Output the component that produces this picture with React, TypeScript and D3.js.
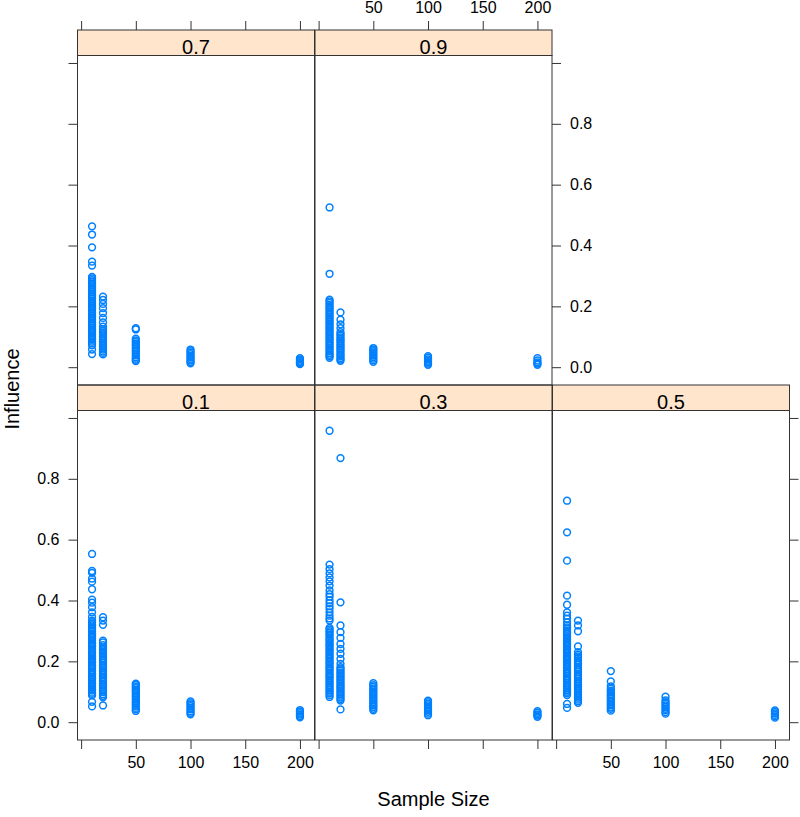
import * as d3 from "d3";
import React, {useEffect, useRef} from "react";

// conditioning levels and x values
const panelLabels = ["0.1", "0.3", "0.5", "0.7", "0.9"];
const sampleSizes = [10, 20, 50, 100, 200];
const xTickValues = [0, 50, 100, 150, 200];
const xTickLabels = ["", "50", "100", "150", "200"];
const yTickValues = [0, 0.2, 0.4, 0.6, 0.8, 1.0];
const yTickLabels = ["0.0", "0.2", "0.4", "0.6", "0.8", ""];

// influence values, one array per panel and sample size
const p01_n10 = [0.553, 0.497, 0.491, 0.472, 0.462, 0.437, 0.403, 0.393, 0.378, 0.361, 0.346, 0.334, 0.329, 0.322, 0.318, 0.311, 0.305, 0.299, 0.292, 0.287, 0.281, 0.276, 0.269, 0.263, 0.258, 0.252, 0.247, 0.240, 0.234, 0.230, 0.223, 0.217, 0.212, 0.206, 0.199, 0.195, 0.188, 0.183, 0.178, 0.171, 0.166, 0.160, 0.155, 0.148, 0.143, 0.138, 0.131, 0.126, 0.121, 0.114, 0.108, 0.104, 0.097, 0.093, 0.088, 0.067, 0.052];
const p01_n20 = [0.345, 0.334, 0.320, 0.268, 0.262, 0.253, 0.246, 0.241, 0.236, 0.229, 0.224, 0.218, 0.211, 0.206, 0.201, 0.195, 0.188, 0.184, 0.178, 0.171, 0.167, 0.160, 0.155, 0.149, 0.144, 0.137, 0.133, 0.126, 0.121, 0.116, 0.109, 0.104, 0.099, 0.092, 0.087, 0.082, 0.055];
const p01_n50 = [0.127, 0.123, 0.117, 0.112, 0.106, 0.101, 0.096, 0.090, 0.085, 0.080, 0.074, 0.068, 0.063, 0.058, 0.053, 0.047, 0.042, 0.037];
const p01_n100 = [0.068, 0.063, 0.058, 0.053, 0.047, 0.042, 0.036, 0.031, 0.026];
const p01_n200 = [0.040, 0.035, 0.030, 0.025, 0.020, 0.016];

const p03_n10 = [0.958, 0.518, 0.503, 0.489, 0.476, 0.463, 0.449, 0.433, 0.421, 0.413, 0.401, 0.391, 0.381, 0.372, 0.361, 0.350, 0.341, 0.334, 0.310, 0.305, 0.299, 0.294, 0.288, 0.283, 0.276, 0.271, 0.266, 0.259, 0.254, 0.249, 0.242, 0.237, 0.232, 0.225, 0.220, 0.214, 0.209, 0.202, 0.197, 0.192, 0.185, 0.180, 0.174, 0.169, 0.162, 0.157, 0.151, 0.146, 0.140, 0.134, 0.129, 0.123, 0.117, 0.112, 0.106, 0.100, 0.095, 0.089, 0.083];
const p03_n20 = [0.868, 0.394, 0.318, 0.296, 0.277, 0.257, 0.241, 0.225, 0.208, 0.192, 0.181, 0.176, 0.170, 0.164, 0.159, 0.153, 0.148, 0.142, 0.137, 0.131, 0.125, 0.120, 0.114, 0.109, 0.103, 0.098, 0.092, 0.087, 0.081, 0.076, 0.071, 0.042];
const p03_n50 = [0.128, 0.122, 0.117, 0.111, 0.106, 0.100, 0.094, 0.089, 0.083, 0.078, 0.072, 0.066, 0.061, 0.055, 0.050, 0.044, 0.039];
const p03_n100 = [0.071, 0.066, 0.060, 0.055, 0.049, 0.044, 0.039, 0.034, 0.028, 0.023];
const p03_n200 = [0.036, 0.031, 0.026, 0.022, 0.018];

const p05_n10 = [0.728, 0.624, 0.531, 0.416, 0.386, 0.361, 0.350, 0.340, 0.328, 0.318, 0.312, 0.307, 0.300, 0.295, 0.290, 0.283, 0.278, 0.272, 0.265, 0.260, 0.255, 0.249, 0.242, 0.237, 0.232, 0.226, 0.219, 0.214, 0.209, 0.203, 0.196, 0.191, 0.186, 0.180, 0.174, 0.168, 0.163, 0.158, 0.151, 0.145, 0.140, 0.135, 0.128, 0.123, 0.118, 0.111, 0.105, 0.100, 0.095, 0.089, 0.060, 0.047];
const p05_n20 = [0.334, 0.318, 0.299, 0.249, 0.230, 0.222, 0.216, 0.211, 0.204, 0.199, 0.194, 0.188, 0.181, 0.176, 0.171, 0.165, 0.158, 0.153, 0.148, 0.142, 0.136, 0.131, 0.125, 0.119, 0.113, 0.108, 0.102, 0.097, 0.091, 0.085, 0.080, 0.074, 0.069, 0.064];
const p05_n50 = [0.168, 0.134, 0.118, 0.110, 0.104, 0.099, 0.093, 0.088, 0.082, 0.077, 0.071, 0.066, 0.060, 0.055, 0.049, 0.044, 0.038];
const p05_n100 = [0.084, 0.072, 0.066, 0.061, 0.055, 0.050, 0.044, 0.039, 0.033, 0.028];
const p05_n200 = [0.039, 0.034, 0.029, 0.024, 0.019, 0.015];

const p07_n10 = [0.463, 0.436, 0.394, 0.347, 0.334, 0.297, 0.292, 0.286, 0.281, 0.275, 0.270, 0.264, 0.258, 0.253, 0.247, 0.241, 0.236, 0.230, 0.225, 0.219, 0.213, 0.208, 0.202, 0.196, 0.191, 0.185, 0.180, 0.174, 0.168, 0.163, 0.157, 0.151, 0.146, 0.140, 0.135, 0.129, 0.123, 0.118, 0.112, 0.106, 0.101, 0.095, 0.090, 0.084, 0.078, 0.072, 0.058, 0.043];
const p07_n20 = [0.232, 0.221, 0.208, 0.194, 0.178, 0.162, 0.147, 0.133, 0.125, 0.119, 0.114, 0.108, 0.102, 0.097, 0.091, 0.086, 0.080, 0.074, 0.069, 0.063, 0.058, 0.052, 0.047, 0.042];
const p07_n50 = [0.128, 0.124, 0.094, 0.088, 0.083, 0.077, 0.072, 0.066, 0.061, 0.055, 0.050, 0.044, 0.039, 0.033, 0.028, 0.024, 0.020];
const p07_n100 = [0.058, 0.053, 0.048, 0.043, 0.037, 0.032, 0.027, 0.022, 0.017, 0.013];
const p07_n200 = [0.030, 0.026, 0.021, 0.017, 0.013, 0.010];

const p09_n10 = [0.525, 0.307, 0.222, 0.216, 0.211, 0.205, 0.199, 0.194, 0.188, 0.182, 0.177, 0.171, 0.165, 0.160, 0.154, 0.148, 0.143, 0.137, 0.131, 0.126, 0.120, 0.114, 0.109, 0.103, 0.097, 0.092, 0.086, 0.080, 0.075, 0.069, 0.063, 0.058, 0.052, 0.046, 0.041, 0.036, 0.031];
const p09_n20 = [0.180, 0.156, 0.141, 0.128, 0.115, 0.109, 0.104, 0.098, 0.092, 0.087, 0.081, 0.075, 0.070, 0.064, 0.058, 0.053, 0.047, 0.041, 0.036, 0.030, 0.025, 0.021];
const p09_n50 = [0.063, 0.058, 0.053, 0.048, 0.043, 0.038, 0.033, 0.028, 0.023, 0.018];
const p09_n100 = [0.036, 0.031, 0.026, 0.021, 0.017, 0.012, 0.008];
const p09_n200 = [0.030, 0.022, 0.016, 0.012, 0.008];

const panelData = [
    [p01_n10, p01_n20, p01_n50, p01_n100, p01_n200],
    [p03_n10, p03_n20, p03_n50, p03_n100, p03_n200],
    [p05_n10, p05_n20, p05_n50, p05_n100, p05_n200],
    [p07_n10, p07_n20, p07_n50, p07_n100, p07_n200],
    [p09_n10, p09_n20, p09_n50, p09_n100, p09_n200],
];

// layout: 3 columns x 2 rows, filled from the bottom left like lattice
const colX = [77.5, 315, 552.5];
const rowStripTop = [30, 385];
const panelW = 237;
const stripH = 25.5;
const panelH = 329.5;
const panelPos = [[0, 1], [1, 1], [2, 1], [0, 0], [1, 0]];
// which axes each panel gets: "l" = ticks + labels, "t" = ticks only
const panelAxes = [
    {left: "l", bottom: "l"},
    {bottom: "t"},
    {bottom: "l", right: "t"},
    {left: "t", top: "t"},
    {top: "l", right: "l"},
];

const font = "'Liberation Sans', Arial, Helvetica, sans-serif";
const lineCol = "#333333";
const pointCol = "#0080ff";

// lattice style padding of 7% on either side
const padExtent = (vals) => {
    const [a, b] = d3.extent(vals);
    const p = (b - a) * 0.07;
    return [a - p, b + p];
};

const App = () => {
    const ref = useRef(null);

    useEffect(() => {
        const svg = d3.select(ref.current);
        svg.selectAll("*").remove();

        const x = d3.scaleLinear().domain(padExtent(sampleSizes)).range([0, panelW]);
        const y = d3.scaleLinear().domain(padExtent(panelData.flat(2))).range([panelH, 0]);

        const styleAxis = (g) => {
            g.select(".domain").remove();
            g.selectAll(".tick line").attr("stroke", lineCol);
            g.selectAll(".tick text")
                .attr("fill", "#000")
                .style("font-size", "16px")
                .style("font-family", font);
        };

        panelData.forEach((groups, pi) => {
            const [c, r] = panelPos[pi];
            const stripTop = rowStripTop[r];
            const top = stripTop + stripH;
            const g = svg.append("g").attr("transform", `translate(${colX[c]},${top})`);

            // strip
            g.append("rect")
                .attr("x", 0).attr("y", -stripH)
                .attr("width", panelW).attr("height", stripH)
                .attr("fill", "#ffe5cc")
                .attr("stroke", lineCol);
            g.append("text")
                .attr("x", panelW / 2).attr("y", -2)
                .attr("text-anchor", "middle")
                .style("font-size", "20px")
                .style("font-family", font)
                .text(panelLabels[pi]);

            // points
            groups.forEach((vals, si) => {
                g.append("g")
                    .selectAll("circle")
                    .data(vals)
                    .join("circle")
                    .attr("cx", x(sampleSizes[si]))
                    .attr("cy", d => y(d))
                    .attr("r", 3.4)
                    .attr("fill", "none")
                    .attr("stroke", pointCol)
                    .attr("stroke-width", 1.5);
            });

            // panel border
            g.append("rect")
                .attr("width", panelW).attr("height", panelH)
                .attr("fill", "none")
                .attr("stroke", lineCol);

            const ax = panelAxes[pi];
            const xFmt = (lab) => (d, i) => lab === "l" ? xTickLabels[i] : "";
            const yFmt = (lab) => (d, i) => lab === "l" ? yTickLabels[i] : "";

            if (ax.bottom) {
                g.append("g")
                    .attr("transform", `translate(0,${panelH})`)
                    .call(d3.axisBottom(x).tickValues(xTickValues).tickSize(9).tickPadding(8).tickFormat(xFmt(ax.bottom)))
                    .call(styleAxis);
            }
            if (ax.top) {
                g.append("g")
                    .attr("transform", `translate(0,${-stripH})`)
                    .call(d3.axisTop(x).tickValues(xTickValues).tickSize(9).tickPadding(8).tickFormat(xFmt(ax.top)))
                    .call(styleAxis);
            }
            if (ax.left) {
                g.append("g")
                    .call(d3.axisLeft(y).tickValues(yTickValues).tickSize(9).tickPadding(9).tickFormat(yFmt(ax.left)))
                    .call(styleAxis);
            }
            if (ax.right) {
                g.append("g")
                    .attr("transform", `translate(${panelW},0)`)
                    .call(d3.axisRight(y).tickValues(yTickValues).tickSize(9).tickPadding(9).tickFormat(yFmt(ax.right)))
                    .call(styleAxis);
            }
        });

        // axis titles
        svg.append("text")
            .attr("x", (colX[0] + colX[2] + panelW) / 2)
            .attr("y", 806)
            .attr("text-anchor", "middle")
            .style("font-size", "20px")
            .style("font-family", font)
            .text("Sample Size");
        svg.append("text")
            .attr("transform", `translate(19,${(rowStripTop[0] + rowStripTop[1] + stripH + panelH) / 2 + 4}) rotate(-90)`)
            .attr("text-anchor", "middle")
            .style("font-size", "20px")
            .style("font-family", font)
            .text("Influence");
    }, []);

    return (
        <svg ref={ref} width={800} height={817}
             style={{position: "absolute", left: 0, top: 0, background: "#fff"}}/>
    );
};

export default App;
